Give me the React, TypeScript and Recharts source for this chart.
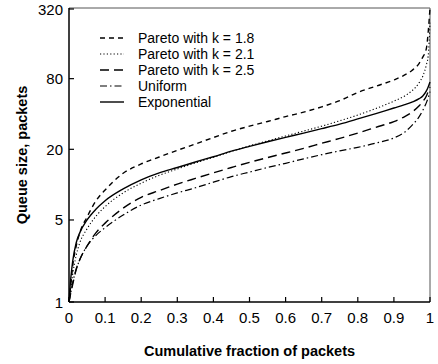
import { Legend, Line, LineChart, ReferenceLine, XAxis, YAxis } from 'recharts';

const xValues = [0, 0.005, 0.01, 0.02, 0.03, 0.05, 0.075, 0.1, 0.15, 0.2, 0.25, 0.3, 0.35, 0.4, 0.45, 0.5, 0.55, 0.6, 0.65, 0.7, 0.75, 0.8, 0.85, 0.9, 0.93, 0.95, 0.97, 0.98, 0.99, 0.995, 1];
const pareto18 = [1, 1.4, 2.0, 3.0, 3.9, 5.3, 7.3, 9.0, 12.5, 15.0, 17.2, 19.6, 22.2, 25.2, 28.5, 31.5, 34.5, 38, 41.5, 46, 52, 61, 69, 78, 86, 94, 108, 122, 145, 200, 320];
const pareto21 = [1, 1.3, 1.7, 2.5, 3.2, 4.2, 5.4, 6.5, 8.5, 10.3, 12.0, 13.6, 15.3, 17.1, 19.2, 21.4, 23.6, 26, 28.6, 31.5, 35, 39.2, 44.5, 51.5, 57, 63, 74, 84, 105, 125, 240];
const pareto25 = [1, 1.2, 1.4, 1.9, 2.3, 3.0, 3.9, 4.7, 6.3, 7.8, 8.9, 10.1, 11.3, 12.6, 14.0, 15.5, 17.0, 18.6, 20.4, 22.5, 24.8, 27.5, 30.8, 34.5, 38, 41.5, 47, 51, 57, 62, 68];
const uniform = [1, 1.2, 1.45, 1.9, 2.3, 3.0, 3.7, 4.3, 5.5, 6.7, 7.6, 8.5, 9.4, 10.5, 11.7, 12.8, 14.0, 15.2, 16.6, 18.0, 19.4, 20.8, 22.6, 25, 28, 32, 38, 43, 50, 55, 62];
const exponential = [1, 1.6, 2.2, 3.2, 3.9, 5.0, 6.2, 7.3, 9.2, 11.0, 12.6, 14.0, 15.6, 17.3, 19.3, 21.2, 23.2, 25.3, 27.5, 30.0, 32.8, 36.3, 40.3, 45, 48, 50.5, 54, 57, 63, 68, 75];

const xTicks = [0, 0.1, 0.2, 0.3, 0.4, 0.5, 0.6, 0.7, 0.8, 0.9, 1];
const yTicks = [1, 5, 20, 80, 320];

const series = [
  { key: 'p18', name: 'Pareto with k = 1.8', values: pareto18, dash: '5 4', width: 1.4 },
  { key: 'p21', name: 'Pareto with k = 2.1', values: pareto21, dash: '1.2 2.2', width: 1.1 },
  { key: 'p25', name: 'Pareto with k = 2.5', values: pareto25, dash: '9 5', width: 1.4 },
  { key: 'uni', name: 'Uniform', values: uniform, dash: '7 3 1.5 3', width: 1.2 },
  { key: 'exp', name: 'Exponential', values: exponential, dash: undefined, width: 1.4 },
];

const rows = xValues.map((x, i) => {
  const row: Record<string, number> = { x };
  series.forEach((s) => {
    row[s.key] = s.values[i];
  });
  return row;
});

const font = '"Liberation Sans", Arial, Helvetica, sans-serif';

function XTick({ x, y, payload }: any) {
  return (
    <g>
      <line x1={x} y1={y} x2={x} y2={y - 5} stroke="#000" strokeWidth={1.2} />
      <text x={x} y={y + 15} textAnchor="middle" dominantBaseline="central" fontSize={15} fontFamily={font} fill="#000">
        {String(payload.value)}
      </text>
    </g>
  );
}

function YTick({ x, y, payload }: any) {
  return (
    <g>
      <line x1={x} y1={y} x2={x + 5} y2={y} stroke="#000" strokeWidth={1.2} />
      <text x={x - 6} y={y} textAnchor="end" dominantBaseline="central" fontSize={15} fontFamily={font} fill="#000">
        {String(payload.value)}
      </text>
    </g>
  );
}

function LegendBox() {
  return (
    <div style={{ fontFamily: font, fontSize: 14, color: '#000' }}>
      {series.map((s) => (
        <div key={s.key} style={{ display: 'flex', alignItems: 'center', height: 16 }}>
          <svg width={24} height={16}>
            <line x1={0} y1={8} x2={24} y2={8} stroke="#000" strokeWidth={s.width} strokeDasharray={s.dash} />
          </svg>
          <span style={{ marginLeft: 14, lineHeight: '16px', whiteSpace: 'nowrap' }}>{s.name}</span>
        </div>
      ))}
    </div>
  );
}

export default function App() {
  return (
    <div style={{ position: 'absolute', left: 0, top: 0, width: 438, height: 364, background: '#fff' }}>
      <LineChart width={438} height={364} data={rows} margin={{ top: 8, right: 8, bottom: 0, left: 0 }}>
        <XAxis
          dataKey="x"
          type="number"
          domain={[0, 1]}
          ticks={xTicks}
          tickSize={0}
          tickMargin={0}
          tick={<XTick />}
          height={62}
          stroke="#000"
          strokeWidth={1.5}
          label={({ viewBox }: any) => (
            <text
              x={viewBox.x + viewBox.width / 2}
              y={viewBox.y + 49}
              textAnchor="middle"
              dominantBaseline="central"
              fontSize={14.5}
              fontWeight="bold"
              fontFamily={font}
              fill="#000"
            >
              Cumulative fraction of packets
            </text>
          )}
        />
        <YAxis
          type="number"
          scale="log"
          domain={[1, 320]}
          ticks={yTicks}
          allowDataOverflow
          tickSize={0}
          tickMargin={0}
          tick={<YTick />}
          width={69}
          stroke="#000"
          strokeWidth={1.5}
          label={({ viewBox }: any) => (
            <text
              x={22}
              y={viewBox.y + viewBox.height / 2}
              textAnchor="middle"
              dominantBaseline="central"
              fontSize={14.5}
              fontWeight="bold"
              fontFamily={font}
              fill="#000"
              transform={`rotate(-90 22 ${viewBox.y + viewBox.height / 2})`}
            >
              Queue size, packets
            </text>
          )}
        />
        <ReferenceLine x={1} stroke="#555" strokeWidth={1} />
        <ReferenceLine y={320} stroke="#555" strokeWidth={1} />
        <Legend
          layout="vertical"
          align="center"
          verticalAlign="middle"
          wrapperStyle={{ left: 100, top: 30, width: 'auto' }}
          content={() => <LegendBox />}
        />
        {series.map((s) => (
          <Line
            key={s.key}
            dataKey={s.key}
            name={s.name}
            type="monotone"
            stroke="#000"
            strokeWidth={s.width}
            strokeDasharray={s.dash}
            dot={false}
            activeDot={false}
            isAnimationActive={false}
          />
        ))}
      </LineChart>
    </div>
  );
}
